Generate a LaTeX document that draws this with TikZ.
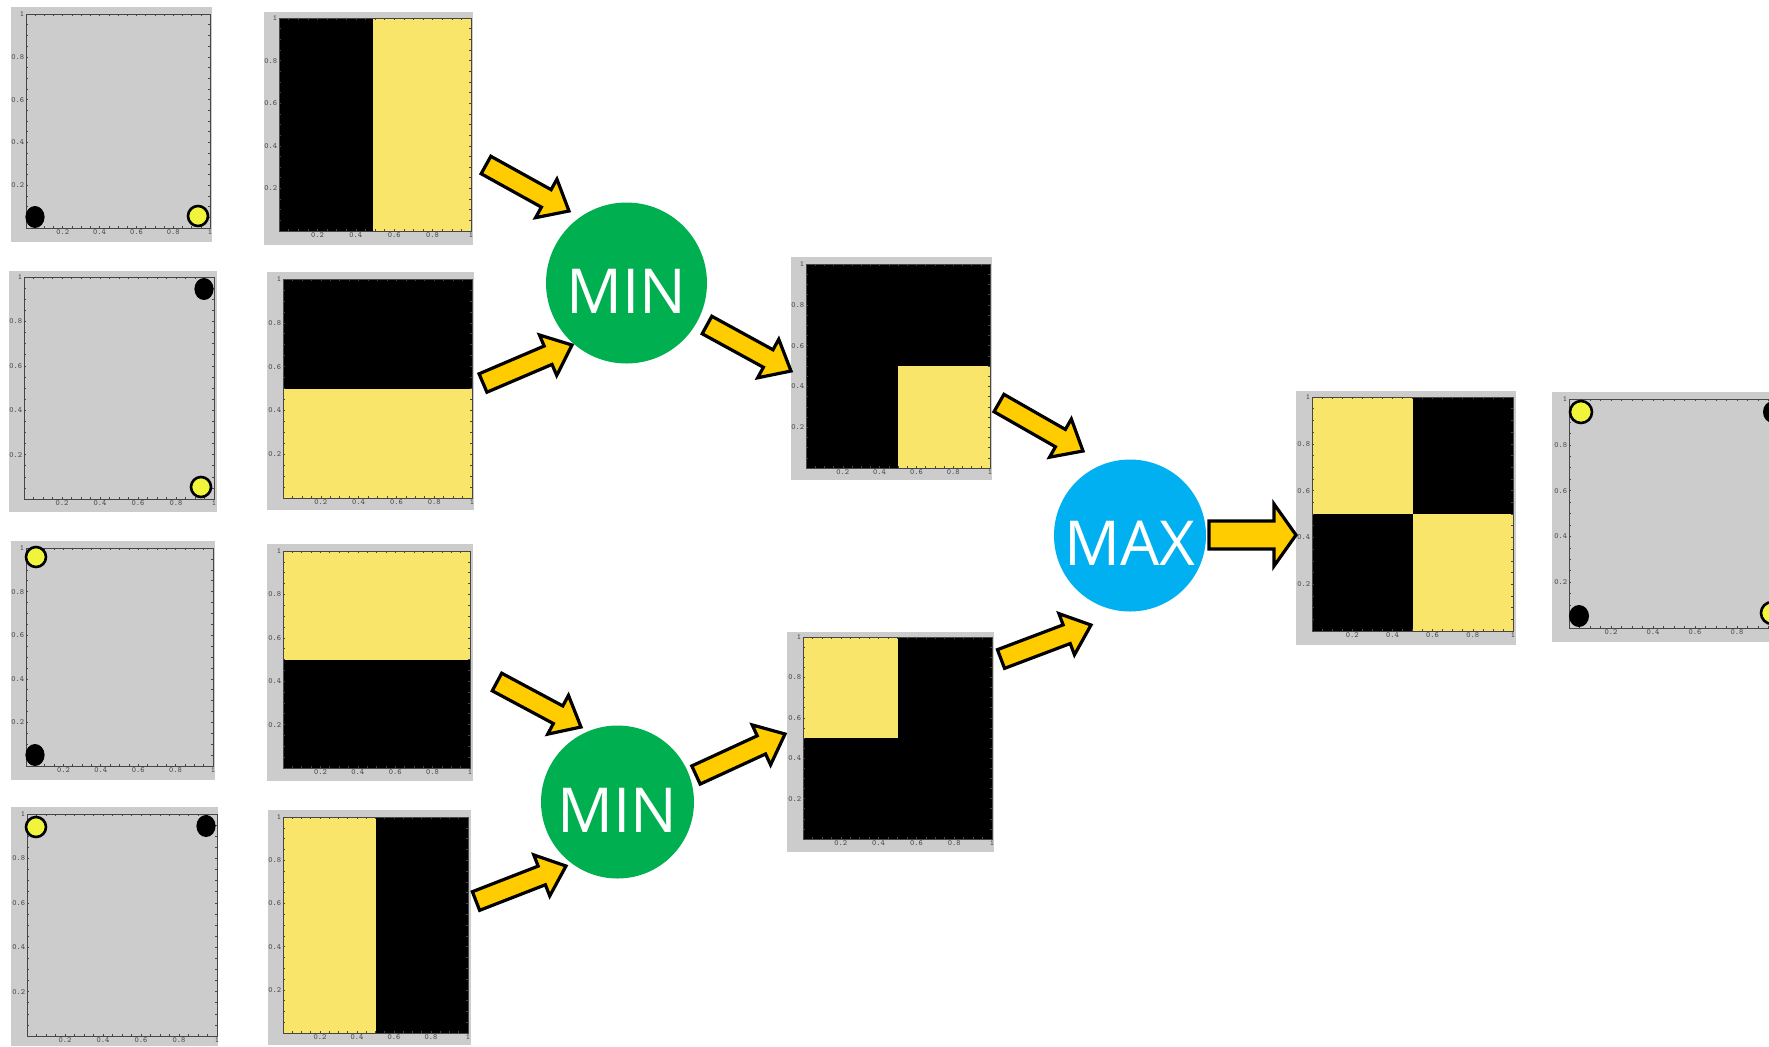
\documentclass[tikz,border=0pt]{standalone}
\usepackage{fontspec}
\newfontfamily\labfont{Open Sans}
\usetikzlibrary{calc,fit}
\definecolor{panelgray}{RGB}{204,204,204}
\definecolor{axisgray}{RGB}{70,70,70}
\definecolor{imgyellow}{RGB}{250,229,107}
\definecolor{dotyellow}{RGB}{240,245,60}
\definecolor{arrowfill}{RGB}{255,204,0}
\definecolor{mingreen}{RGB}{0,176,80}
\definecolor{maxblue}{RGB}{0,176,240}
\tikzset{
  panelbg/.style={fill=panelgray, inner sep=0pt, draw=none},
  frameline/.style={draw=axisgray, line width=0.4pt},
  tickmark/.style={draw=axisgray, line width=0.3pt},
  ticklab/.style={font=\ttfamily\fontsize{4}{4.5}\selectfont, text=axisgray, inner sep=0.7pt},
  opnode/.style={circle, inner sep=0pt, text=white, text height=30pt, text depth=0pt,
    font=\labfont\fontsize{31}{36}\selectfont},
  barrow/.style={fill=arrowfill, draw=black, line width=1.6pt, line join=miter},
  ydot/.style={fill=dotyellow, draw=black, line width=1.3pt},
  bdot/.style={fill=black},
  imgblack/.style={fill=black},
  imgyel/.style={fill=imgyellow},
}
% gray panel background as a named node
\newcommand\panelbox[5]{\node[panelbg, fit={(#2,#3)(#4,#5)}] (#1) {};}
% plot area: px1 py1 px2 py2 {content in unit coords}
\newcommand\plotarea[5]{%
  \begin{scope}[shift={(#1,#4)}, x={({(#3-#1)*0.5pt},0pt)}, y={(0pt,{(#4-#2)*0.5pt})}]
    #5
    \foreach \i in {1,...,19}{
      \draw[tickmark] (\i/20,0) -- ++(0pt,0.9pt);
      \draw[tickmark] (\i/20,1) -- ++(0pt,-0.9pt);
      \draw[tickmark] (0,\i/20) -- ++(0.9pt,0pt);
      \draw[tickmark] (1,\i/20) -- ++(-0.9pt,0pt);
    }
    \draw[frameline] (0,0) rectangle (1,1);
    \foreach \v in {0.2,0.4,0.6,0.8}{
      \node[ticklab, anchor=east] at (0,\v) {\v};
      \node[ticklab, anchor=north] at (\v,0) {\v};
    }
    \node[ticklab, anchor=east] at (0,1) {1};
    \node[ticklab, anchor=north] at (1,0) {1};
  \end{scope}}
% block arrow: tail, tip, half shaft, half head, head length
\newcommand\blockarrow[5]{%
  \coordinate (hb) at ($(#2)!#5!(#1)$);
  \draw[barrow] ($(#1)!#3!90:(#2)$) -- ($(hb)!#3!90:(#2)$) -- ($(hb)!#4!90:(#2)$)
    -- (#2) -- ($(hb)!#4!-90:(#2)$) -- ($(hb)!#3!-90:(#2)$) -- ($(#1)!#3!-90:(#2)$) -- cycle;}

\begin{document}
\begin{tikzpicture}[x=0.5pt, y=-0.5pt]
\useasboundingbox (0,0) rectangle (1769,1046);
\clip (0,0) rectangle (1769,1046);

% ---------- input scatter plots ----------
\panelbox{sc1}{11}{7}{212}{242}
\plotarea{26}{14}{210}{228}{}
\fill[bdot] (35,217) ellipse [x radius=4.8pt, y radius=5.5pt];
\draw[ydot] (198,216) circle [radius=5pt];

\panelbox{sc2}{9}{271}{217}{512}
\plotarea{24}{277}{214}{499}{}
\fill[bdot] (204,289) ellipse [x radius=4.8pt, y radius=5.5pt];
\draw[ydot] (201,487) circle [radius=5pt];

\panelbox{sc3}{11}{541}{215}{780}
\plotarea{26}{548}{213}{766}{}
\draw[ydot] (36,557) circle [radius=5pt];
\fill[bdot] (35,755) ellipse [x radius=4.8pt, y radius=5.5pt];

\panelbox{sc4}{11}{807}{218}{1046}
\plotarea{27}{814}{217}{1036}{}
\draw[ydot] (36,827) circle [radius=5pt];
\fill[bdot] (206,826) ellipse [x radius=4.8pt, y radius=5.5pt];

% ---------- input image plots ----------
\panelbox{im1}{264}{12}{473}{245}
\plotarea{279}{18}{471}{231}{%
  \fill[imgblack] (0,0) rectangle (0.49,1);
  \fill[imgyel] (0.49,0) rectangle (1,1);}

\panelbox{im2}{267}{272}{474}{510}
\plotarea{283}{279}{472}{498}{%
  \fill[imgblack] (0,0.5) rectangle (1,1);
  \fill[imgyel] (0,0) rectangle (1,0.5);}

\panelbox{im3}{267}{544}{473}{781}
\plotarea{283}{551}{470}{768}{%
  \fill[imgyel] (0,0.5) rectangle (1,1);
  \fill[imgblack] (0,0) rectangle (1,0.5);}

\panelbox{im4}{268}{810}{471}{1045}
\plotarea{283}{817}{468}{1033}{%
  \fill[imgyel] (0,0) rectangle (0.5,1);
  \fill[imgblack] (0.5,0) rectangle (1,1);}

% ---------- intermediate results ----------
\panelbox{r1}{791}{257}{992}{480}
\plotarea{806}{264}{990}{468}{%
  \fill[imgblack] (0,0) rectangle (1,1);
  \fill[imgyel] (0.5,0) rectangle (1,0.5);}

\panelbox{r2}{787}{632}{994}{852}
\plotarea{803}{637}{992}{839}{%
  \fill[imgblack] (0,0) rectangle (1,1);
  \fill[imgyel] (0,0.5) rectangle (0.5,1);}

\panelbox{rmax}{1296}{391}{1516}{645}
\plotarea{1312}{397}{1513}{631}{%
  \fill[imgblack] (0,0) rectangle (1,1);
  \fill[imgyel] (0,0.5) rectangle (0.5,1);
  \fill[imgyel] (0.5,0) rectangle (1,0.5);}

% ---------- final scatter ----------
\panelbox{sfin}{1552}{392}{1800}{642}
\plotarea{1569}{399}{1779}{628}{}
\draw[ydot] (1581,412) circle [radius=5.5pt];
\fill[bdot] (1579,616) ellipse [x radius=5pt, y radius=5.5pt];
\fill[bdot] (1773,412) ellipse [x radius=5pt, y radius=5.5pt];
\draw[ydot] (1772,613) circle [radius=5.5pt];

% ---------- operators ----------
\node[opnode, fill=mingreen, minimum size=80.5pt] (min1) at (626.5,283) {MIN};
\node[opnode, fill=mingreen, minimum size=76.5pt] (min2) at (617.5,802) {MIN};
\node[opnode, fill=maxblue, minimum size=76pt] (max) at (1130,535.5) {MAX};

% ---------- arrows ----------
\coordinate (a1t) at (486,165);  \coordinate (a1h) at (569,211);
\coordinate (a2t) at (483,383);  \coordinate (a2h) at (572,345);
\coordinate (a3t) at (707,325);  \coordinate (a3h) at (791,371);
\coordinate (a4t) at (999,403);  \coordinate (a4h) at (1083,451);
\coordinate (a5t) at (497,682);  \coordinate (a5h) at (581,727);
\coordinate (a6t) at (476,901);  \coordinate (a6h) at (566,866);
\coordinate (a7t) at (696,775);  \coordinate (a7h) at (785,734);
\coordinate (a8t) at (1001,659); \coordinate (a8h) at (1091,625);
\coordinate (a9t) at (1209,535); \coordinate (a9h) at (1296,535);

\blockarrow{a1t}{a1h}{5pt}{11pt}{13pt}
\blockarrow{a2t}{a2h}{5pt}{11pt}{13pt}
\blockarrow{a3t}{a3h}{5pt}{11pt}{13pt}
\blockarrow{a4t}{a4h}{5pt}{11pt}{13pt}
\blockarrow{a5t}{a5h}{5pt}{11pt}{13pt}
\blockarrow{a6t}{a6h}{5pt}{11pt}{13pt}
\blockarrow{a7t}{a7h}{5pt}{11pt}{13pt}
\blockarrow{a8t}{a8h}{5pt}{11pt}{13pt}
\blockarrow{a9t}{a9h}{7pt}{15.5pt}{11pt}
\end{tikzpicture}
\end{document}
